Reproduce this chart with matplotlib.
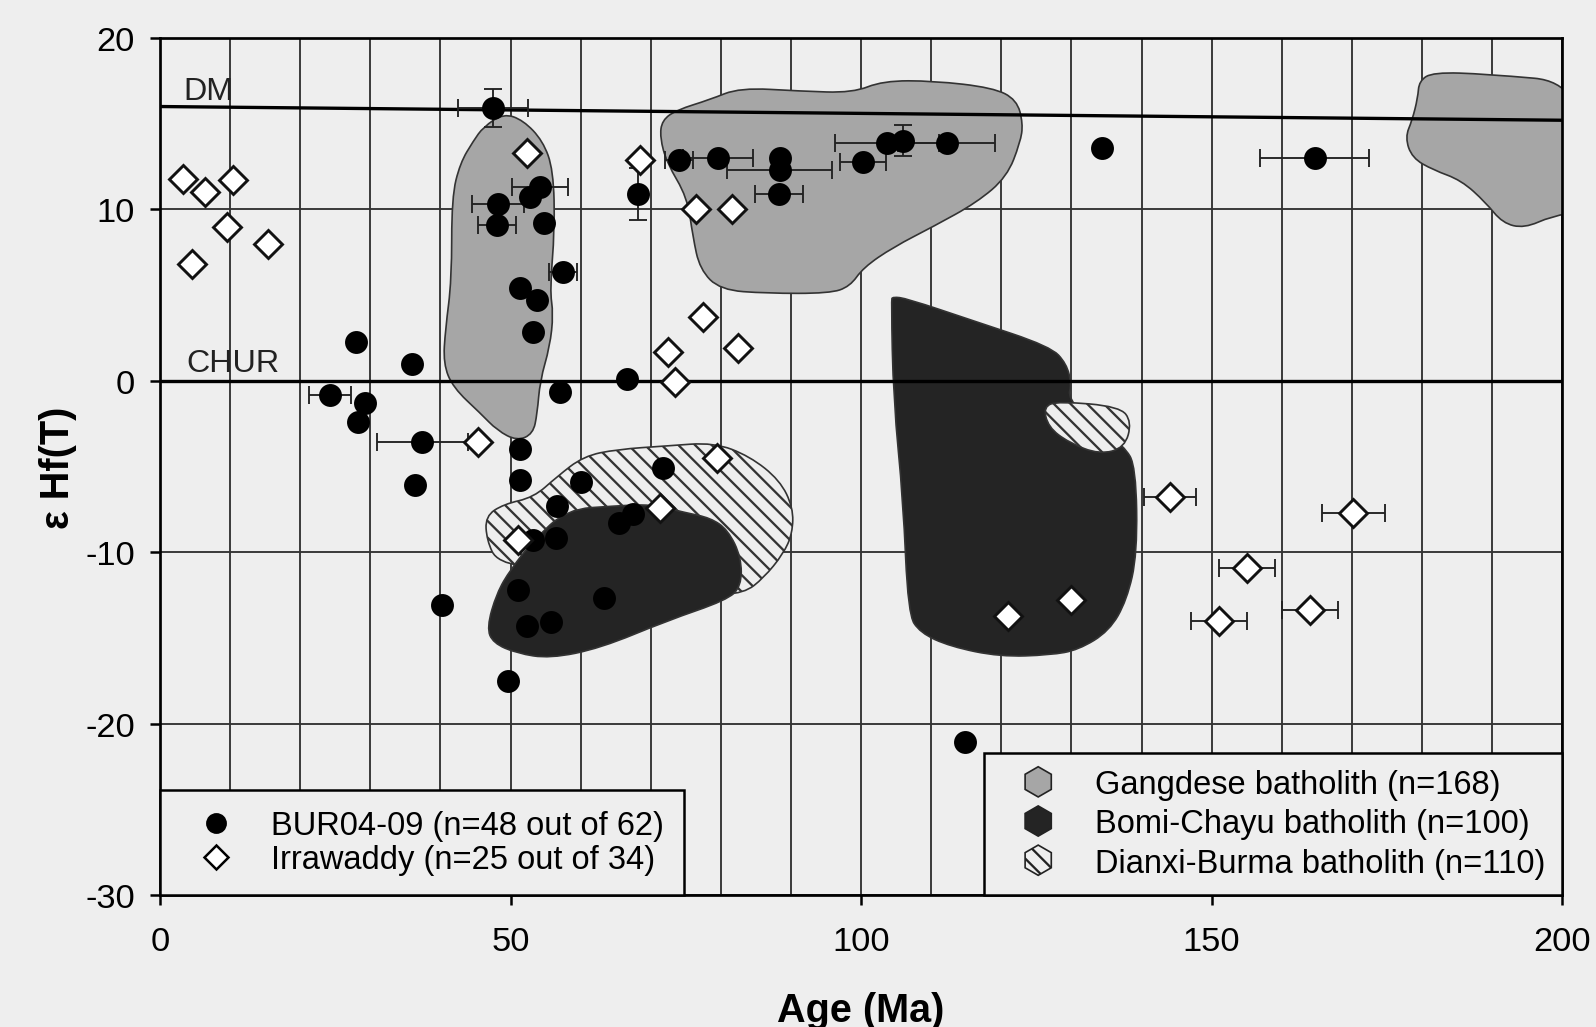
import numpy as np
import matplotlib.pyplot as plt
import matplotlib.patches as mpatches
from matplotlib.path import Path
from matplotlib.lines import Line2D
from matplotlib.legend_handler import HandlerPatch
from matplotlib.ticker import MultipleLocator

plt.rcParams['font.family'] = ['Liberation Sans', 'DejaVu Sans']
plt.rcParams['axes.unicode_minus'] = False
plt.rcParams['hatch.linewidth'] = 1.1
plt.rcParams['hatch.color'] = '#111111'

BG = '#eeeeee'
GRAY = '#a6a6a6'
DARK = '#242424'

# BUR04-09 detrital zircons (filled circles)
bur_age = [47.5, 48.2, 48.1, 52.8, 54.2, 54.7, 51.4, 53.7, 53.2, 57.5, 57.0, 66.6,
           27.9, 36.0, 24.3, 29.3, 28.3, 37.4, 36.4, 51.4, 51.4, 40.2, 49.6, 60.0,
           56.6, 53.2, 56.5, 51.0, 52.4, 55.7, 63.3, 65.5, 67.5, 71.8, 68.2, 74.0,
           79.6, 88.4, 88.4, 88.3, 100.3, 103.7, 106.0, 112.2, 134.4, 164.7, 114.8]
bur_ehf = [15.9, 10.3, 9.1, 10.7, 11.3, 9.2, 5.4, 4.7, 2.85, 6.35, -0.65, 0.1,
           2.25, 1.0, -0.85, -1.3, -2.4, -3.6, -6.1, -4.0, -5.8, -13.1, -17.5, -5.9,
           -7.3, -9.3, -9.2, -12.2, -14.3, -14.1, -12.7, -8.3, -7.8, -5.1, 10.9, 12.9,
           13.0, 13.0, 12.3, 10.9, 12.75, 13.9, 14.0, 13.9, 13.6, 13.0, -21.1]
bur_age_err = [5.0, 3.7, 2.7, 0, 4.0, 0, 0, 0, 0, 2.0, 0, 0,
               0, 0, 3.0, 0, 0, 6.5, 0, 0, 0, 0, 0, 0,
               0, 0, 0, 0, 0, 0, 0, 0, 0, 0, 0, 2.0,
               5.0, 0, 7.5, 3.4, 3.3, 7.4, 0, 6.9, 0, 7.8, 0]
bur_ehf_err = [1.1, 0, 0, 0, 0, 0, 0, 0, 0, 0, 0, 0,
               0, 0, 0, 0, 0, 0, 0, 0, 0, 0, 0, 0,
               0, 0, 0, 0, 0, 0, 0, 0, 0, 0, 1.5, 0,
               0, 0, 0, 0, 0, 0, 0.9, 0, 0, 0, 0]

# Irrawaddy detrital zircons (open diamonds)
irr_age = [3.3, 6.4, 10.4, 9.6, 15.4, 4.5, 52.4, 68.5, 76.5, 81.6, 77.5, 72.5, 82.4,
           73.4, 45.4, 51.1, 79.4, 71.3, 120.9, 130.0, 144.0, 170.2, 155.0, 151.0, 164.0]
irr_ehf = [11.8, 11.0, 11.7, 9.0, 8.0, 6.8, 13.3, 12.9, 10.0, 10.0, 3.7, 1.7, 1.9,
           -0.05, -3.6, -9.3, -4.5, -7.4, -13.7, -12.8, -6.8, -7.7, -10.9, -14.0, -13.4]
irr_age_err = [0, 0, 0, 0, 0, 0, 0, 0, 0, 0, 0, 0, 0,
               0, 0, 0, 0, 0, 0, 0, 3.7, 4.5, 4.0, 4.0, 4.0]

# reference evolution lines
dm_age, dm_ehf = [0, 200], [16.0, 15.2]
chur_age, chur_ehf = [0, 200], [0.0, 0.0]

# batholith fields (outline vertices, age / eHf)
gangdese_1_age = [46.1, 49.0, 51.8, 54.6, 56.1, 56.3, 55.6, 56.1, 55.6, 54.2, 53.8, 53.2,
                  50.9, 48.1, 45.7, 41.8, 40.4, 40.7, 41.6, 41.6, 42.8, 44.7]
gangdese_1_ehf = [14.8, 15.6, 15.2, 14.0, 12.3, 8.8, 5.3, 3.9, 2.0, 0.0, -1.9, -3.1,
                  -3.5, -2.9, -1.9, -0.4, 1.0, 3.0, 5.9, 10.7, 12.7, 14.0]
gangdese_2_age = [71.6, 73.7, 78.4, 82.7, 91.3, 98.8, 103.1, 110.3, 118.8, 122.2, 123.1,
                  122.7, 120.8, 116.5, 110.3, 104.6, 100.3, 98.4, 95.5, 86.5, 79.9,
                  77.0, 76.0, 75.2, 72.3, 71.3]
gangdese_2_ehf = [15.2, 15.8, 16.4, 17.1, 16.9, 16.8, 17.5, 17.5, 17.1, 16.4, 15.0,
                  13.9, 11.9, 10.4, 9.0, 7.8, 6.6, 5.5, 5.1, 5.1, 5.3,
                  6.5, 8.4, 10.7, 12.7, 14.2]
gangdese_3_age = [179.6, 181.6, 189.1, 203.0, 203.0, 198.5, 194.6, 191.5, 189.1, 185.6,
                  181.6, 178.6, 177.6, 178.6, 179.4]
gangdese_3_ehf = [17.5, 18.0, 17.9, 17.4, 9.9, 9.6, 8.9, 9.2, 10.4, 11.7,
                  12.3, 13.0, 14.2, 15.2, 16.5]
dianxi_1_age = [46.4, 49.0, 53.3, 56.6, 60.4, 65.2, 72.3, 79.0, 84.1, 88.4, 90.3, 90.2,
                88.9, 86.1, 83.3, 78.0, 66.0, 55.0, 48.1, 46.6]
dianxi_1_ehf = [-7.9, -7.2, -6.8, -5.6, -4.4, -4.0, -3.8, -3.6, -4.4, -5.8, -7.4, -8.9,
                -10.1, -11.5, -12.4, -12.5, -12.0, -11.0, -10.6, -9.3]
dianxi_2_age = [126.0, 128.2, 136.9, 138.6, 137.6, 134.0, 129.6, 126.7]
dianxi_2_ehf = [-1.5, -1.2, -1.5, -2.4, -3.9, -4.3, -3.6, -2.7]
bomi_1_age = [46.6, 48.0, 50.0, 53.3, 58.0, 65.0, 70.0, 75.0, 78.5, 81.0, 82.9, 82.9,
              80.8, 72.3, 62.8, 55.6, 50.9, 47.5]
bomi_1_ehf = [-14.4, -12.4, -11.0, -9.3, -7.5, -7.3, -7.2, -7.7, -8.0, -8.7, -10.3, -12.0,
              -12.8, -14.0, -15.6, -16.2, -15.9, -15.3]
bomi_2_age = [104.3, 104.5, 106.5, 116.0, 127.0, 129.3, 130.0, 129.5, 133.0, 137.5, 139.2,
              139.4, 137.9, 135.4, 131.0, 127.0, 119.8, 112.7, 108.4, 106.7, 106.0, 104.6]
bomi_2_ehf = [4.7, 4.9, 4.8, 3.5, 2.0, 1.0, -0.2, -1.0, -2.5, -3.8, -5.0,
              -10.1, -12.8, -14.6, -15.7, -16.0, -16.1, -15.5, -14.7, -13.6, -7.0, -1.1]

bur_label = 'BUR04-09 (n=48 out of 62)'
irr_label = 'Irrawaddy (n=25 out of 34)'
field_labels = ['Gangdese batholith (n=168)', 'Bomi-Chayu batholith (n=100)',
                'Dianxi-Burma batholith (n=110)']


def field(xs, ys, **kw):
    # closed outline smoothed with quadratic curves through edge midpoints
    pts = np.column_stack([xs, ys])
    mids = (pts + np.roll(pts, -1, axis=0)) / 2
    verts, codes = [mids[-1]], [Path.MOVETO]
    for p, m in zip(pts, mids):
        verts += [p, m]
        codes += [Path.CURVE3, Path.CURVE3]
    verts.append(mids[-1])
    codes.append(Path.CLOSEPOLY)
    return mpatches.PathPatch(Path(verts, codes), **kw)


class HexHandler(HandlerPatch):
    def create_artists(self, legend, orig_handle, xdescent, ydescent,
                       width, height, fontsize, trans):
        center = (0.5 * width - xdescent, 0.5 * height - ydescent)
        p = mpatches.RegularPolygon(center, numVertices=6, radius=0.66 * height)
        self.update_prop(p, orig_handle, legend)
        p.set_transform(trans)
        return [p]


fig = plt.figure(figsize=(10.64, 6.8533), dpi=150, facecolor=BG)
ax = fig.add_axes([0.1003, 0.1284, 0.8785, 0.8337], facecolor=BG)

ax.set_xlim(0, 200)
ax.set_ylim(-30, 20)
ax.xaxis.set_major_locator(MultipleLocator(50))
ax.xaxis.set_minor_locator(MultipleLocator(10))
ax.yaxis.set_major_locator(MultipleLocator(10))
ax.grid(True, which='both', axis='x', color='#333333', lw=0.9, zorder=0)
ax.grid(True, which='major', axis='y', color='#333333', lw=0.9, zorder=0)
ax.set_axisbelow(True)

for s in ax.spines.values():
    s.set_linewidth(1.3)
ax.tick_params(which='major', direction='out', length=5, width=1.2,
               labelsize=16.5, color='black')
ax.tick_params(axis='x', pad=10)
ax.tick_params(axis='y', pad=7)
ax.tick_params(which='minor', length=0)

edge = dict(edgecolor='#333333', lw=0.8)
ax.add_patch(field(gangdese_1_age, gangdese_1_ehf, facecolor=GRAY, zorder=1, **edge))
ax.add_patch(field(gangdese_2_age, gangdese_2_ehf, facecolor=GRAY, zorder=1, **edge))
ax.add_patch(field(gangdese_3_age, gangdese_3_ehf, facecolor=GRAY, zorder=1, **edge))
ax.add_patch(field(dianxi_1_age, dianxi_1_ehf, facecolor=BG, hatch='\\\\\\', zorder=1, **edge))
ax.add_patch(field(bomi_1_age, bomi_1_ehf, facecolor=DARK, zorder=2, **edge))
ax.add_patch(field(bomi_2_age, bomi_2_ehf, facecolor=DARK, zorder=2, **edge))
ax.add_patch(field(dianxi_2_age, dianxi_2_ehf, facecolor=BG, hatch='\\\\\\', zorder=2.5, **edge))

ax.plot(dm_age, dm_ehf, color='black', lw=1.6, zorder=3)
ax.plot(chur_age, chur_ehf, color='black', lw=1.6, zorder=3)
ax.text(3.3, 16.45, 'DM', fontsize=15.5, color='#222222', zorder=3)
ax.text(3.8, 0.55, 'CHUR', fontsize=15.5, color='#222222', zorder=3)

ba, be = np.array(bur_age), np.array(bur_ehf)
bxe, bye = np.array(bur_age_err), np.array(bur_ehf_err)
m = bxe > 0
ax.errorbar(ba[m], be[m], xerr=bxe[m], fmt='none', ecolor='#222222',
            elinewidth=0.9, capsize=4.5, capthick=0.9, zorder=4)
m = bye > 0
ax.errorbar(ba[m], be[m], yerr=bye[m], fmt='none', ecolor='#222222',
            elinewidth=0.9, capsize=4.5, capthick=0.9, zorder=4)
ia, ie, ixe = np.array(irr_age), np.array(irr_ehf), np.array(irr_age_err)
m = ixe > 0
ax.errorbar(ia[m], ie[m], xerr=ixe[m], fmt='none', ecolor='#222222',
            elinewidth=0.9, capsize=4.5, capthick=0.9, zorder=4)

ax.plot(ba, be, 'o', ms=10, color='black', zorder=5)
ax.plot(ia, ie, 'D', ms=9.5, mfc='white', mec='#111111', mew=1.4, zorder=5)

ax.set_xlabel('Age (Ma)', fontsize=19, fontweight='bold')
ax.xaxis.set_label_coords(0.5, -0.112)
ax.set_ylabel('ε Hf(T)', fontsize=19, fontweight='bold')
ax.yaxis.set_label_coords(-0.073, 0.5)
ax.yaxis.label.set_va('center')

h1 = [Line2D([], [], ls='none', marker='o', ms=9, color='black'),
      Line2D([], [], ls='none', marker='D', ms=8, mfc='white', mec='black', mew=1.2)]
leg1 = ax.legend(h1, [bur_label, irr_label], loc='lower left', borderaxespad=0,
                 fontsize=15.7, frameon=True, fancybox=False, framealpha=1,
                 facecolor=BG, edgecolor='black', borderpad=0.6, labelspacing=0.1,
                 handlelength=2.2, handletextpad=0.6)
leg1.get_frame().set_linewidth(1.2)
leg1.set_zorder(6)
ax.add_artist(leg1)

h2 = [mpatches.Patch(facecolor=GRAY, edgecolor='#222222', lw=0.8),
      mpatches.Patch(facecolor=DARK, edgecolor='#222222', lw=0.8),
      mpatches.Patch(facecolor=BG, edgecolor='#222222', lw=0.8, hatch='\\\\\\')]
leg2 = ax.legend(h2, field_labels, loc='lower right', borderaxespad=0,
                 fontsize=15.7, frameon=True, fancybox=False, framealpha=1,
                 facecolor=BG, edgecolor='black', borderpad=0.5, labelspacing=0.25,
                 handlelength=2.3, handletextpad=0.6,
                 handler_map={mpatches.Patch: HexHandler()})
leg2.get_frame().set_linewidth(1.2)
leg2.set_zorder(6)

fig.savefig('out.png', dpi=150, facecolor=BG)
